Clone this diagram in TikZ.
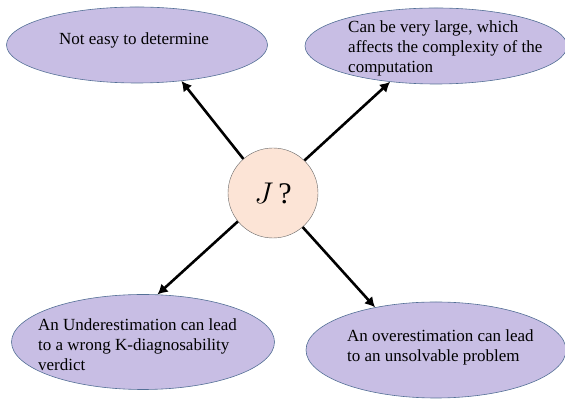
\RequirePackage{fix-cm}
\documentclass[tikz,border=0pt]{standalone}
\usepackage{fontspec}
\setmainfont{Liberation Serif}
\usepackage{tikz}
\usetikzlibrary{arrows.meta, shapes.geometric}
\definecolor{lavender}{RGB}{200,190,228}
\definecolor{peach}{RGB}{252,228,214}
\definecolor{rimblue}{RGB}{84,112,150}

\begin{document}
\begin{tikzpicture}[
    x=1pt, y=1pt,
    oval/.style={draw=rimblue, ellipse, fill=lavender, line width=0.6pt,
                 inner sep=0pt},
    txt/.style={align=left, inner sep=0pt,
                font=\fontsize{17}{20}\selectfont},
    hub/.style={draw=black!60, circle, fill=peach, minimum size=90pt,
                inner sep=0pt, font=\fontsize{30}{36}\selectfont},
    arr/.style={-{Latex[length=10pt,width=11pt]}, line width=2.6pt}
  ]
  \useasboundingbox (0,0) rectangle (565,401);

  \node[hub] (j) at (273,208) {$J\,$?};

  \node[oval, minimum width=261pt, minimum height=76pt] (tl) at (137,356) {};
  \node[oval, minimum width=262pt, minimum height=76pt] (tr) at (436,355) {};
  \node[oval, minimum width=263pt, minimum height=95pt] (bl) at (143,59) {};
  \node[oval, minimum width=260pt, minimum height=96pt] (br) at (436,51) {};

  \node[txt] (tltext) at (134,361) {Not easy to determine};
  \node[txt, anchor=west] (trtext) at (348,353) {%
    Can be very large, which\\
    affects the complexity of the\\
    computation};
  \node[txt, anchor=west] (bltext) at (38,56) {%
    An Underestimation can lead\\
    to a wrong K-diagnosability\\
    verdict};
  \node[txt, anchor=west] (brtext) at (347,54) {%
    An overestimation can lead\\
    to an unsolvable problem};

  \draw[arr] (j.131) -- (tl.-39);
  \draw[arr] (j.46) -- (tr.-142);
  \draw[arr] (j.219) -- (bl.73);
  \draw[arr] (j.-49) -- (br.145);

\end{tikzpicture}
\end{document}
